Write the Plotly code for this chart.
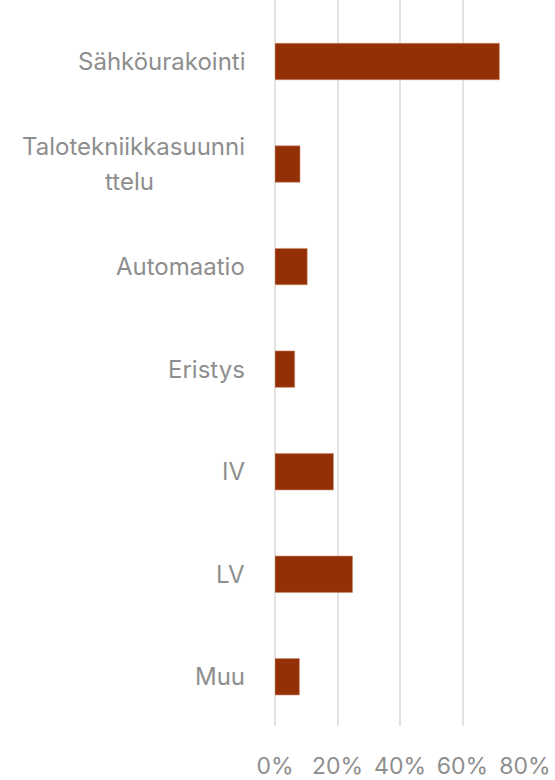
import plotly.graph_objects as go

# categories top to bottom, share of respondents (%)
categories = ["Sähköurakointi", "Talotekniikkasuunnittelu", "Automaatio",
              "Eristys", "IV", "LV", "Muu"]
display_labels = ["Sähköurakointi", "Talotekniikkasuunni\nttelu", "Automaatio",
                  "Eristys", "IV", "LV", "Muu"]
shares = [71.8, 8.0, 10.3, 6.3, 18.7, 24.8, 7.8]
x_ticks = [0, 20, 40, 60, 80]
x_tick_text = ["0%", "20%", "40%", "60%", "80%"]

BAR = "#933006"
TEXT = "#8e8e8e"
GRID = "#e3e3e3"
FONT = "Inter"

fig = go.Figure(go.Bar(
    x=shares, y=categories, orientation="h",
    marker=dict(color=BAR, line=dict(color="#c98a6e", width=0.6)),
    width=0.355,
))

# y labels as annotations so wrapped lines stay centred with wider spacing
for cat, lab in zip(categories, display_labels):
    lines = lab.split("\n")
    n = len(lines)
    for k, line in enumerate(lines):
        ann = dict(
            x=0, xref="paper", y=cat, yref="y", text=line,
            xanchor="right", yanchor="middle", align="center",
            xshift=-28, yshift=(n - 1) * 17.5 - k * 35,
            showarrow=False, font=dict(family=FONT, size=24, color=TEXT),
        )
        if k > 0:
            # continuation line sits centred under the first line
            ann.update(xanchor="center", xshift=-146)
        fig.add_annotation(**ann)

fig.update_layout(
    width=555, height=780,
    margin=dict(l=275, r=30, t=0, b=51),
    plot_bgcolor="white", paper_bgcolor="white",
    showlegend=False,
    font=dict(family=FONT, size=23, color=TEXT),
)
fig.update_xaxes(
    range=[0, 80], tickvals=x_ticks, ticktext=x_tick_text,
    showgrid=True, gridcolor=GRID, gridwidth=2,
    zeroline=True, zerolinecolor=GRID, zerolinewidth=2,
    showline=False, ticks="", ticklabelstandoff=24,
    tickfont=dict(family=FONT, size=23, color=TEXT),
)
fig.update_yaxes(
    categoryorder="array", categoryarray=categories,
    range=[6.48, -0.6], showticklabels=False,
    showgrid=False, zeroline=False, showline=False,
)

fig.write_html("out.html", config={"displayModeBar": False},
               post_script="document.body.style.margin='0';")
